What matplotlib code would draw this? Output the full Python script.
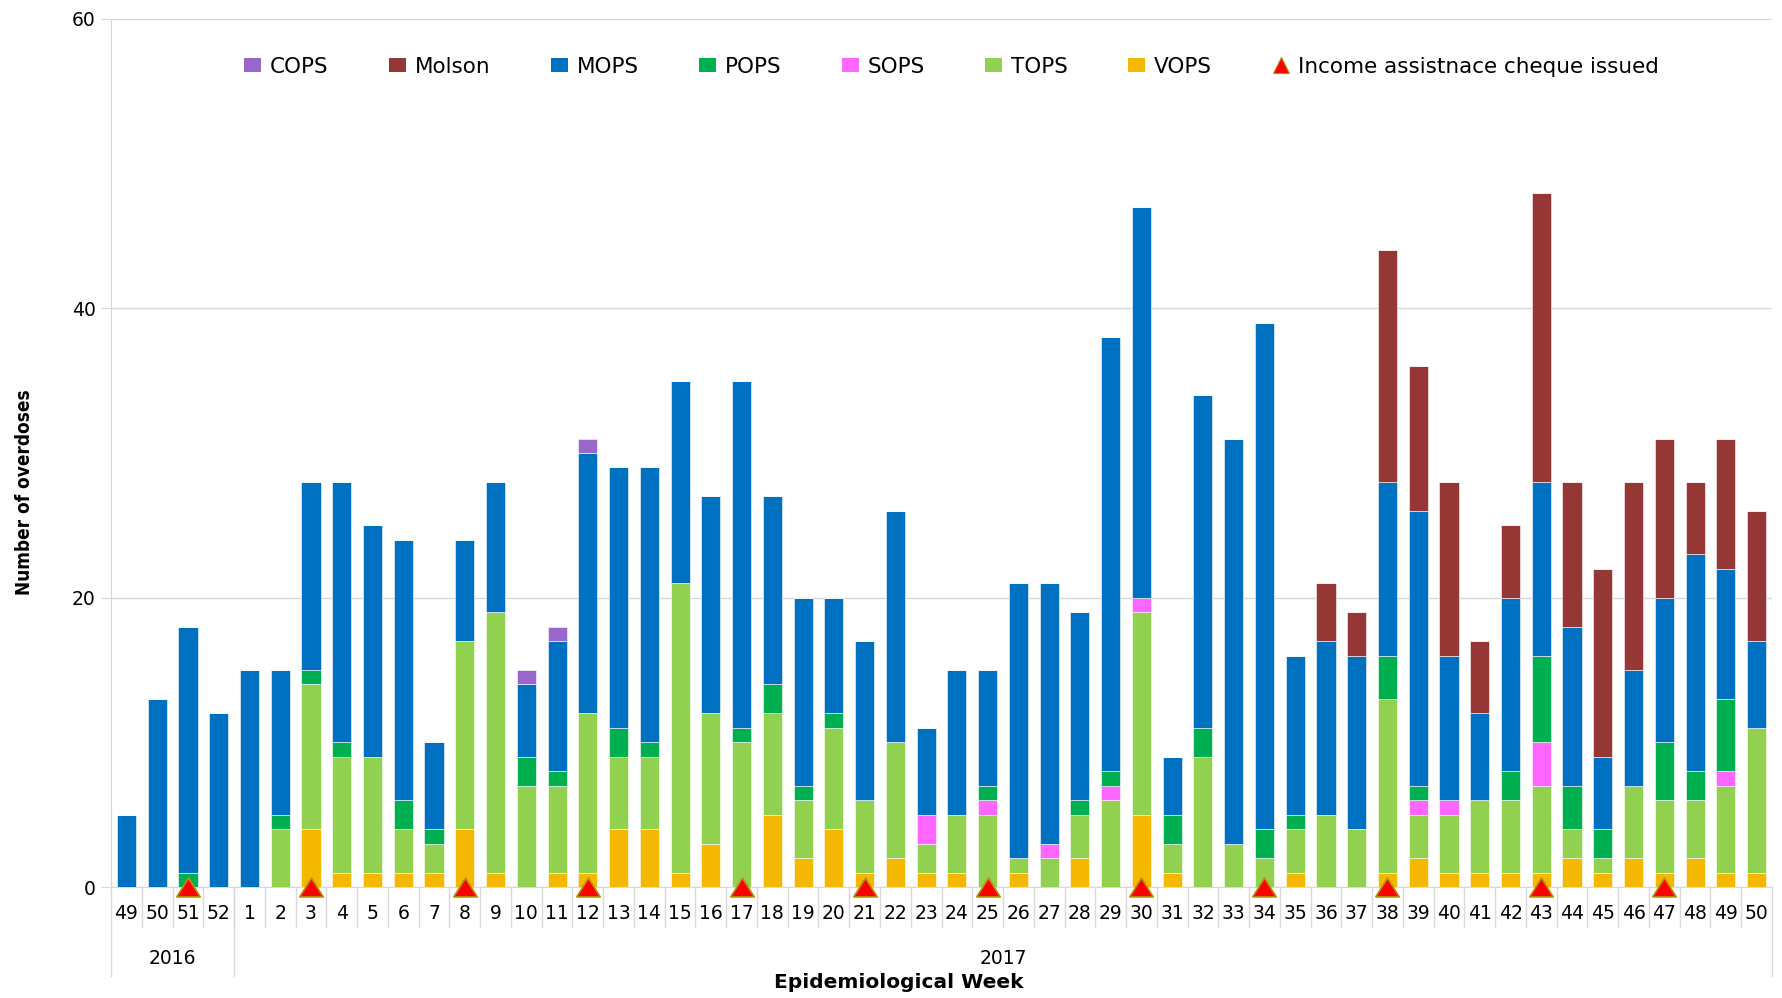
import matplotlib
matplotlib.use("Agg")
import matplotlib.pyplot as plt
import matplotlib.transforms as mtransforms
from matplotlib import font_manager as fm
from matplotlib.patches import Patch
from matplotlib.lines import Line2D
import numpy as np

weeks = ["49", "50", "51", "52"] + [str(i) for i in range(1, 51)]
years = ["2016", "2017"]
year_sizes = [4, 50]

#            49 50 51 52  1  2  3  4  5  6  7  8  9 10 11 12 13 14 15 16 17 18 19 20 21 22 23 24 25 26 27 28 29 30 31 32 33 34 35 36 37 38 39 40 41 42 43 44 45 46 47 48 49 50
VOPS   = [0, 0, 0, 0, 0, 0, 4, 1, 1, 1, 1, 4, 1, 0, 1, 1, 4, 4, 1, 3, 0, 5, 2, 4, 1, 2, 1, 1, 0, 1, 0, 2, 0, 5, 1, 0, 0, 0, 1, 0, 0, 1, 2, 1, 1, 1, 1, 2, 1, 2, 1, 2, 1, 1]
TOPS   = [0, 0, 0, 0, 0, 4, 10, 8, 8, 3, 2, 13, 18, 7, 6, 11, 5, 5, 20, 9, 10, 7, 4, 7, 5, 8, 2, 4, 5, 1, 2, 3, 6, 14, 2, 9, 3, 2, 3, 5, 4, 12, 3, 4, 5, 5, 6, 2, 1, 5, 5, 4, 6, 10]
SOPS   = [0, 0, 0, 0, 0, 0, 0, 0, 0, 0, 0, 0, 0, 0, 0, 0, 0, 0, 0, 0, 0, 0, 0, 0, 0, 0, 2, 0, 1, 0, 1, 0, 1, 1, 0, 0, 0, 0, 0, 0, 0, 0, 1, 1, 0, 0, 3, 0, 0, 0, 0, 0, 1, 0]
POPS   = [0, 0, 1, 0, 0, 1, 1, 1, 0, 2, 1, 0, 0, 2, 1, 0, 2, 1, 0, 0, 1, 2, 1, 1, 0, 0, 0, 0, 1, 0, 0, 1, 1, 0, 2, 2, 0, 2, 1, 0, 0, 3, 1, 0, 0, 2, 6, 3, 2, 0, 4, 2, 5, 0]
MOPS   = [5, 13, 17, 12, 15, 10, 13, 18, 16, 18, 6, 7, 9, 5, 9, 18, 18, 19, 14, 15, 24, 13, 13, 8, 11, 16, 6, 10, 8, 19, 18, 13, 30, 27, 4, 23, 28, 35, 11, 12, 12, 12, 19, 10, 6, 12, 12, 11, 5, 8, 10, 15, 9, 6]
Molson = [0, 0, 0, 0, 0, 0, 0, 0, 0, 0, 0, 0, 0, 0, 0, 0, 0, 0, 0, 0, 0, 0, 0, 0, 0, 0, 0, 0, 0, 0, 0, 0, 0, 0, 0, 0, 0, 0, 0, 4, 3, 16, 10, 12, 5, 5, 20, 10, 13, 13, 11, 5, 9, 9]
COPS   = [0, 0, 0, 0, 0, 0, 0, 0, 0, 0, 0, 0, 0, 1, 1, 1, 0, 0, 0, 0, 0, 0, 0, 0, 0, 0, 0, 0, 0, 0, 0, 0, 0, 0, 0, 0, 0, 0, 0, 0, 0, 0, 0, 0, 0, 0, 0, 0, 0, 0, 0, 0, 0, 0]
cheque = [0, 0, 1, 0, 0, 0, 1, 0, 0, 0, 0, 1, 0, 0, 0, 1, 0, 0, 0, 0, 1, 0, 0, 0, 1, 0, 0, 0, 1, 0, 0, 0, 0, 1, 0, 0, 0, 1, 0, 0, 0, 1, 0, 0, 0, 0, 1, 0, 0, 0, 1, 0, 0, 0]

stack_order = [("VOPS", VOPS, "#F5B800"), ("TOPS", TOPS, "#92D050"), ("SOPS", SOPS, "#FF66FF"),
               ("POPS", POPS, "#00B050"), ("MOPS", MOPS, "#0070C0"), ("Molson", Molson, "#953735"),
               ("COPS", COPS, "#9966CC")]
legend_order = ["COPS", "Molson", "MOPS", "POPS", "SOPS", "TOPS", "VOPS"]

plt.rcParams['font.family'] = ['DejaVu Sans']


def has_family(name):
    try:
        fm.findfont(fm.FontProperties(family=name), fallback_to_default=False)
        return True
    except Exception:
        return False


# narrow bold font for the y label
ylab_kw = None
for cand in ["Liberation Sans Narrow", "Arial Narrow"]:
    if has_family(cand):
        ylab_kw = dict(family=[cand, "DejaVu Sans"], fontsize=15, fontweight="bold")
        break
if ylab_kw is None:
    p = fm.findfont(fm.FontProperties(family="DejaVu Sans", stretch="condensed", weight="bold"))
    if "ondensed" in p:
        ylab_kw = dict(family=["DejaVu Sans"], fontstretch="condensed", fontsize=13.6, fontweight="bold")
    else:
        ylab_kw = dict(family=["Liberation Sans", "DejaVu Sans"], fontsize=13, fontweight="bold")

fig = plt.figure(figsize=(17.83, 9.98), dpi=100)
ax = fig.add_axes([0.0623, 0.1112, 0.9315, 0.8698])

x = np.arange(len(weeks))
bottom = np.zeros(len(weeks))
colors = {}
for name, vals, col in stack_order:
    v = np.array(vals, dtype=float)
    ax.bar(x, v, bottom=bottom, width=0.62, color=col, edgecolor="white", linewidth=0.4, zorder=3)
    bottom += v
    colors[name] = col

# cheque markers
tri = [(-1, -0.8), (1, -0.8), (0, 0.8), (-1, -0.8)]
cx = [xi for xi, c in zip(x, cheque) if c]
ax.plot(cx, [0] * len(cx), linestyle="none", marker=tri, markersize=17, markerfacecolor="#FF0000",
        markeredgecolor="#B8900A", markeredgewidth=1.2, zorder=5, clip_on=False)

ax.set_xlim(-0.5, len(weeks) - 0.5)
ax.set_ylim(0, 60)
ax.set_yticks([0, 20, 40, 60])
ax.set_xticks(x)
ax.set_xticklabels(weeks, fontsize=13.5)
ax.tick_params(axis="x", length=0, pad=12)
ax.tick_params(axis="y", length=7, color="#D9D9D9", labelsize=13.5, pad=4)
ax.grid(axis="y", color="#D9D9D9", linewidth=1, zorder=0)
ax.set_axisbelow(True)
for s in ["top", "right"]:
    ax.spines[s].set_visible(False)
ax.spines["left"].set_color("#D9D9D9")
ax.spines["bottom"].set_color("#D9D9D9")

trans = mtransforms.blended_transform_factory(ax.transData, ax.transAxes)
# short separators between categories
for i in range(1, len(weeks)):
    ax.plot([i - 0.5, i - 0.5], [0, -0.046], transform=trans, color="#D9D9D9", lw=1, clip_on=False)
# long group separators
edges = [-0.5]
acc = -0.5
for n in year_sizes:
    acc += n
    edges.append(acc)
for e in edges:
    ax.plot([e, e], [0, -0.102], transform=trans, color="#D9D9D9", lw=1, clip_on=False)
start = -0.5
for yr, n in zip(years, year_sizes):
    ax.text(start + n / 2, -0.082, yr, transform=trans, ha="center", va="center", fontsize=13.5)
    start += n

fig.text(0.504, 0.016, "Epidemiological Week", ha="center", va="center", fontsize=14.5, fontweight="bold")
fig.text(0.014, 0.507, "Number of overdoses", rotation=90, ha="center", va="center", **ylab_kw)

handles = []
for name in legend_order:
    handles.append(Patch(facecolor=colors[name], edgecolor="none", label=name))
handles.append(Line2D([], [], linestyle="none", marker="^", markersize=12, markerfacecolor="#FF0000",
                      markeredgecolor="#B8900A", markeredgewidth=0.8, label="Income assistnace cheque issued"))
leg = ax.legend(handles=handles, ncol=8, loc="center", bbox_to_anchor=(0.506, 0.945), frameon=False,
                fontsize=15.5, handlelength=0.8, handleheight=0.6, handletextpad=0.4, columnspacing=2.8)

fig.savefig("out.png", dpi=100)
